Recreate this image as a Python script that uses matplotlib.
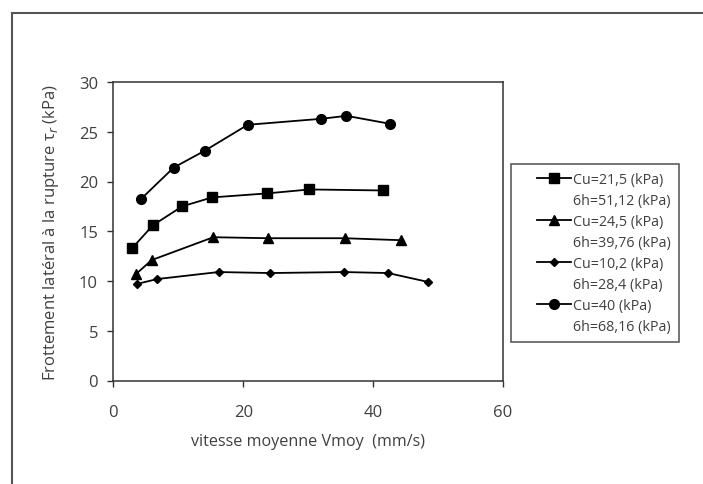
import matplotlib
matplotlib.use("Agg")
import matplotlib.pyplot as plt
from matplotlib.lines import Line2D
from matplotlib.legend_handler import HandlerLine2D

plt.rcParams['font.family'] = ['Open Sans', 'DejaVu Sans']

# Data
x_sq = [2.9, 6.1, 10.6, 15.2, 23.6, 30.2, 41.5]
y_sq = [13.3, 15.6, 17.5, 18.4, 18.8, 19.2, 19.1]
x_tri = [3.5, 5.9, 15.4, 23.8, 35.6, 44.3]
y_tri = [10.7, 12.1, 14.4, 14.3, 14.3, 14.1]
x_dia = [3.6, 6.8, 16.2, 24.2, 35.5, 42.3, 48.5]
y_dia = [9.7, 10.2, 10.9, 10.8, 10.9, 10.8, 9.9]
x_cir = [4.2, 9.3, 14.1, 20.7, 32.0, 35.9, 42.6]
y_cir = [18.2, 21.4, 23.1, 25.7, 26.3, 26.6, 25.8]

labels_cu = ["Cu=21,5 (kPa)", "Cu=24,5 (kPa)", "Cu=10,2 (kPa)", "Cu=40 (kPa)"]
labels_6h = ["6h=51,12 (kPa)", "6h=39,76 (kPa)", "6h=28,4 (kPa)", "6h=68,16 (kPa)"]

xticks = [0, 20, 40, 60]
yticks = [0, 5, 10, 15, 20, 25, 30]

W, H = 703, 485
fig = plt.figure(figsize=(W / 100, H / 100), dpi=100)
ax = fig.add_axes([113.3 / W, 1 - 381.5 / H, (503 - 113.3) / W, (381.5 - 83) / H])

txt = "#404040"
lw = 1.3
l1, = ax.plot(x_sq, y_sq, color="black", lw=lw, marker="s", ms=6.5)
l2, = ax.plot(x_tri, y_tri, color="black", lw=lw, marker="^", ms=6.5)
l3, = ax.plot(x_dia, y_dia, color="black", lw=lw, marker="D", ms=4.5)
l4, = ax.plot(x_cir, y_cir, color="black", lw=lw, marker="o", ms=7)

ax.set_xlim(0, 60)
ax.set_ylim(0, 30)
ax.set_xticks(xticks)
ax.set_yticks(yticks)
for s in ax.spines.values():
    s.set_color("#333333")
    s.set_linewidth(1.1)
ax.tick_params(axis="both", direction="out", length=4, width=1, color="#333333",
               labelcolor=txt, labelsize=12)
ax.tick_params(axis="x", pad=13)
ax.tick_params(axis="y", pad=7)

ax.set_xlabel("vitesse moyenne Vmoy  (mm/s)", fontsize=11.6, color=txt, labelpad=9)
ax.set_ylabel(r"Frottement latéral à la rupture τ$_r$ (kPa)", fontsize=12, color=txt, labelpad=13)


class ShiftedLine(HandlerLine2D):
    def __init__(self, off, **kw):
        super().__init__(**kw)
        self.off = off

    def create_artists(self, legend, orig_handle, xdescent, ydescent, width, height,
                       fontsize, trans):
        return super().create_artists(legend, orig_handle, xdescent - self.off, ydescent,
                                      width - self.off, height, fontsize, trans)


blank = Line2D([], [], color="none")
handles = []
labels = []
for h, a, b in zip([l1, l2, l3, l4], labels_cu, labels_6h):
    handles += [h, blank]
    labels += [a, b]
hmap = {l: ShiftedLine(13.0) for l in [l1, l2, l3, l4]}
leg = fig.legend(handles, labels, loc="upper left", bbox_to_anchor=(510.7 / W, 1 - 165 / H),
                 frameon=True, fancybox=False, fontsize=10.3, labelcolor=txt,
                 handlelength=3.7, handletextpad=0.12, labelspacing=0.42,
                 borderpad=0.55, borderaxespad=0, handler_map=hmap)
leg.get_frame().set_edgecolor("#333333")
leg.get_frame().set_linewidth(1.2)

# outer frame
fig.add_artist(Line2D([12 / W, 12 / W], [0, 1 - 13.5 / H], transform=fig.transFigure,
                      color="#555555", lw=1.5))
fig.add_artist(Line2D([12 / W, 1], [1 - 13.5 / H, 1 - 13.5 / H], transform=fig.transFigure,
                      color="#555555", lw=1.5))

fig.savefig("out.png", dpi=100)
